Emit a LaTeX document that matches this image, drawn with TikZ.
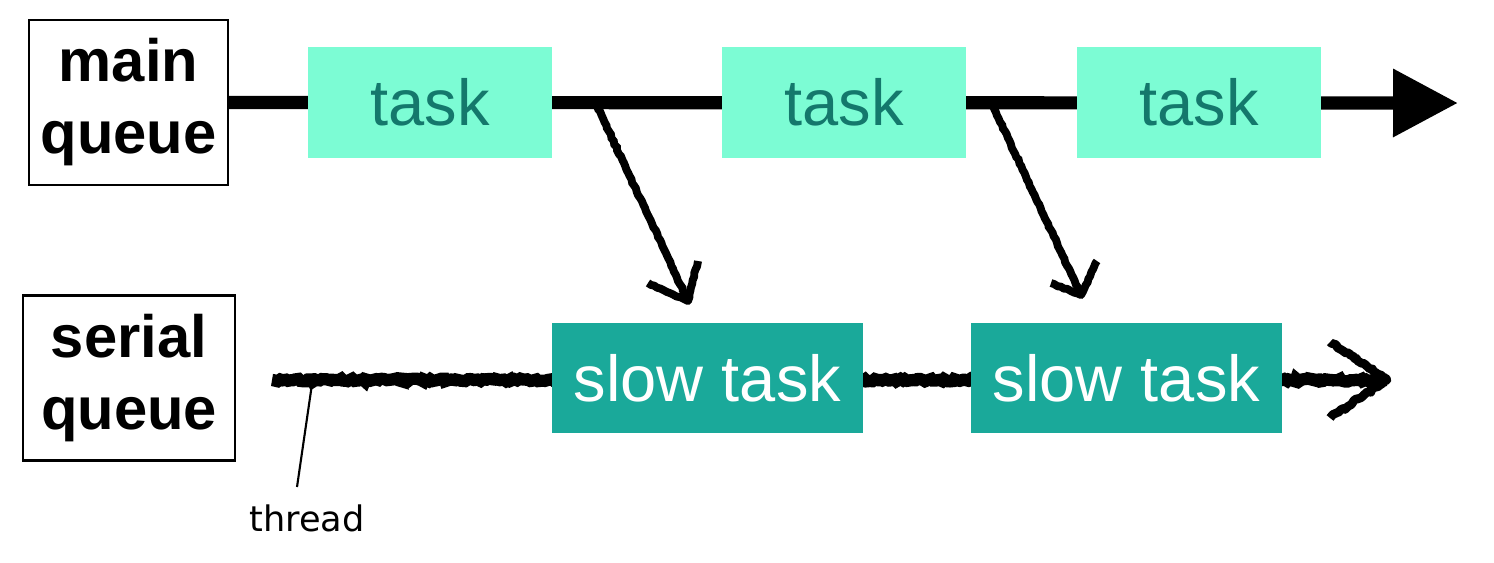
\documentclass[tikz,border=0pt]{standalone}
\usepackage{fontspec}
\setmainfont{Liberation Sans}
\newfontfamily\handfont{DejaVu Sans}
\usetikzlibrary{arrows.meta,decorations.pathmorphing,backgrounds,calc}

\definecolor{tasklight}{RGB}{124,252,212}
\definecolor{taskdark}{RGB}{26,169,154}
\definecolor{tasktext}{RGB}{20,120,108}

\begin{document}
\begin{tikzpicture}[x=0.02cm,y=-0.02cm,
    queuebox/.style={draw,line width=1.2pt,align=center,inner sep=0pt,
        minimum height=3.3cm,font=\fontsize{34}{41}\selectfont\bfseries},
    fasttask/.style={fill=tasklight,text=tasktext,minimum width=4.88cm,
        minimum height=2.22cm,font=\fontsize{37}{40}\selectfont},
    slowtask/.style={fill=taskdark,text=white,minimum width=6.22cm,
        minimum height=2.2cm,font=\fontsize{37}{40}\selectfont},
    rough/.style={decorate,decoration={random steps,segment length=1.5pt,amplitude=0.8pt}},
    sketch/.style={decorate,decoration={random steps,segment length=2pt,amplitude=0.4pt}}]

    % keep the page at the size of the reference
    \useasboundingbox (0,0) rectangle (1494,562);

    % queue labels
    \node[queuebox,minimum width=3.98cm] (mainq) at (128.5,102.5) {main\\queue};
    \node[queuebox,minimum width=4.24cm] (serialq) at (129,378) {serial\\queue};

    % tasks on the main queue
    \node[fasttask] (task1) at (430,102.5) {task};
    \node[fasttask] (task2) at (844,102.5) {task};
    \node[fasttask] (task3) at (1199,102.5) {task};

    % tasks on the serial queue
    \node[slowtask] (slow1) at (707.5,378) {slow task};
    \node[slowtask] (slow2) at (1126.5,378) {slow task};

    % end points of the lines
    \coordinate (mainend) at (1458,103);
    \coordinate (serstart) at (272,380);
    \coordinate (serend) at (1387,380);
    \coordinate (split1) at (597,106);
    \coordinate (drop1) at (688,301);
    \coordinate (split2) at (993,106);
    \coordinate (drop2) at (1081,295);
    \coordinate (threadpt) at (312,384);

    \begin{scope}[on background layer]
        % main queue
        \draw[line width=7.5pt,-{Triangle[length=37pt,width=37pt]}] (mainq.east) -- (mainend);
        % serial queue (hand drawn)
        \draw[rough,line width=7pt] (serstart) -- (serend);
    \end{scope}

    % hand drawn arrow heads and dispatch arrows
    \draw[rough,line width=5pt,line join=round] ($(serend)+(-57,-38)$) -- (serend) -- ($(serend)+(-57,38)$);
    \draw[sketch,line width=4.5pt] (split1) -- (drop1);
    \draw[sketch,line width=4.5pt,line join=round] ($(drop1)+(-40,-18)$) -- (drop1) -- ($(drop1)+(10,-40)$);
    \draw[sketch,line width=4.5pt] (split2) -- (drop2);
    \draw[sketch,line width=4.5pt,line join=round] ($(drop2)+(-30,-12)$) -- (drop2) -- ($(drop2)+(16,-34)$);

    % thread label
    \node[anchor=north,font=\handfont\fontsize{20}{22}\selectfont] (threadlbl) at (307,499) {thread};
    \draw[line width=1.2pt] (threadpt) -- ($(threadlbl.north)+(-10,-12)$);

\end{tikzpicture}
\end{document}
